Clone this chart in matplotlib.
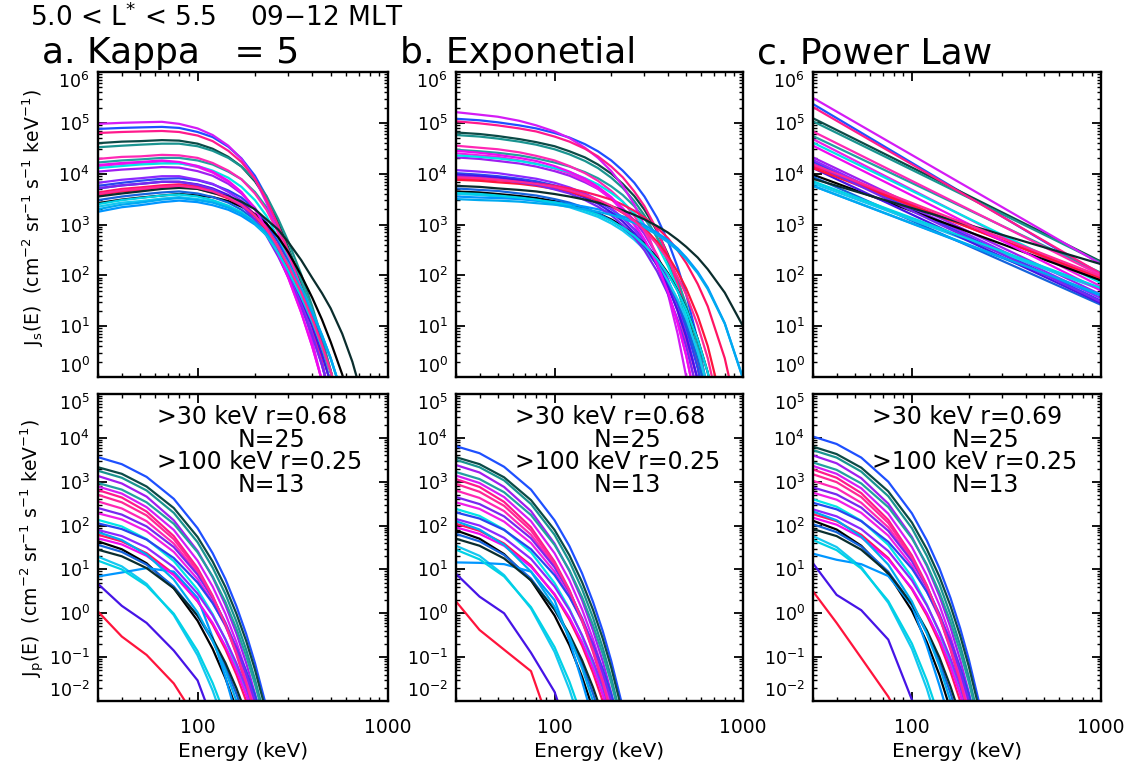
import numpy as np
import matplotlib
matplotlib.use('Agg')
import matplotlib.pyplot as plt
from matplotlib.ticker import LogLocator, NullFormatter, FixedLocator, FixedFormatter

energy_top = [30, 40, 50, 65, 80, 100, 120, 145, 170, 200, 230, 265, 300, 350,
              400, 450, 500, 575, 650, 800, 1000]
energy_pl = [30, 1000]
energy_bot = [30, 40, 54, 75, 100, 120, 140, 160, 180, 200, 230, 260, 300]

colors = ['#1e50ff', '#0c4a46', '#1a9490', '#a01ef0', '#22a0a0',
          '#d41cf5', '#ff1a8c', '#ff28b4', '#f01ee6', '#00e6e6',
          '#2846f0', '#8c28ff', '#ff1464', '#000000', '#1464dc',
          '#14c8f0', '#0096ff', '#4614e6', '#ff143c', '#7828f0',
          '#f00af0', '#0a2d2d', '#00d2e6', '#00aaf0', '#ff2896']

# log10 J_s, kappa = 5 fits
kappa_top = [
    [4.88, 4.90, 4.91, 4.92, 4.90, 4.82, 4.72, 4.53, 4.30, 3.96, 3.55, 3.03, 2.50, 1.76, 1.03, 0.30, -0.49, -1.68, -2.86, -5.5, -9.0],
    [4.60, 4.63, 4.64, 4.66, 4.65, 4.59, 4.49, 4.33, 4.14, 3.85, 3.51, 3.03, 2.54, 1.87, 1.20, 0.54, -0.14, -1.21, -2.3, -4.7, -7.8],
    [4.52, 4.55, 4.57, 4.59, 4.59, 4.54, 4.45, 4.31, 4.14, 3.88, 3.56, 3.11, 2.66, 2.02, 1.39, 0.76, 0.13, -0.87, -1.9, -4.1, -7.1],
    [4.04, 4.08, 4.10, 4.13, 4.12, 4.05, 3.96, 3.80, 3.61, 3.33, 2.98, 2.54, 2.10, 1.48, 0.87, 0.25, -0.41, -1.41, -2.4, -4.6, -7.6],
    [4.22, 4.26, 4.28, 4.31, 4.31, 4.26, 4.18, 4.04, 3.89, 3.64, 3.34, 2.92, 2.50, 1.90, 1.30, 0.71, 0.12, -0.82, -1.8, -3.9, -6.7],
    [4.98, 5.00, 5.01, 5.02, 4.98, 4.89, 4.76, 4.55, 4.29, 3.90, 3.43, 2.85, 2.29, 1.50, 0.71, -0.09, -0.96, -2.26, -3.6, -6.4, -10.0],
    [4.80, 4.82, 4.83, 4.84, 4.82, 4.75, 4.64, 4.45, 4.23, 3.90, 3.49, 2.98, 2.46, 1.73, 1.01, 0.29, -0.49, -1.65, -2.8, -5.4, -8.9],
    [4.29, 4.33, 4.34, 4.37, 4.36, 4.31, 4.21, 4.06, 3.89, 3.61, 3.29, 2.84, 2.38, 1.75, 1.13, 0.50, -0.13, -1.14, -2.2, -4.4, -7.3],
    [4.15, 4.19, 4.21, 4.24, 4.21, 4.13, 4.02, 3.84, 3.63, 3.30, 2.89, 2.41, 1.94, 1.27, 0.60, -0.07, -0.81, -1.91, -3.1, -5.4, -8.7],
    [4.11, 4.15, 4.18, 4.20, 4.20, 4.15, 4.06, 3.92, 3.74, 3.48, 3.17, 2.73, 2.29, 1.69, 1.09, 0.49, -0.13, -1.10, -2.1, -4.2, -7.0],
    [3.76, 3.82, 3.86, 3.90, 3.91, 3.87, 3.79, 3.67, 3.53, 3.30, 3.03, 2.65, 2.27, 1.72, 1.18, 0.65, 0.11, -0.74, -1.6, -3.5, -6.0],
    [3.82, 3.88, 3.91, 3.95, 3.95, 3.88, 3.80, 3.64, 3.47, 3.19, 2.86, 2.44, 2.01, 1.42, 0.83, 0.24, -0.40, -1.35, -2.3, -4.4, -7.3],
    [3.63, 3.70, 3.73, 3.77, 3.79, 3.75, 3.67, 3.56, 3.42, 3.20, 2.94, 2.57, 2.20, 1.67, 1.15, 0.63, 0.11, -0.72, -1.6, -3.4, -5.9],
    [3.42, 3.49, 3.53, 3.57, 3.60, 3.57, 3.54, 3.46, 3.35, 3.20, 3.02, 2.75, 2.45, 2.00, 1.56, 1.13, 0.69, 0.05, -0.65, -2.1, -4.2],
    [3.48, 3.55, 3.59, 3.63, 3.65, 3.61, 3.54, 3.43, 3.29, 3.09, 2.83, 2.48, 2.12, 1.61, 1.11, 0.60, 0.10, -0.70, -1.5, -3.3, -5.6],
    [3.35, 3.43, 3.46, 3.51, 3.54, 3.50, 3.45, 3.35, 3.23, 3.06, 2.85, 2.54, 2.22, 1.75, 1.29, 0.83, 0.37, -0.35, -1.1, -2.7, -4.8],
    [3.25, 3.34, 3.38, 3.44, 3.47, 3.44, 3.38, 3.29, 3.17, 3.00, 2.79, 2.49, 2.18, 1.71, 1.26, 0.81, 0.36, -0.34, -1.0, -2.6, -4.7],
    [3.71, 3.77, 3.80, 3.84, 3.84, 3.79, 3.71, 3.58, 3.42, 3.18, 2.90, 2.50, 2.10, 1.54, 1.00, 0.44, -0.12, -1.00, -1.9, -3.9, -6.4],
    [3.58, 3.65, 3.68, 3.72, 3.74, 3.70, 3.63, 3.51, 3.38, 3.16, 2.90, 2.54, 2.17, 1.65, 1.13, 0.62, 0.11, -0.71, -1.6, -3.4, -5.8],
    [3.71, 3.77, 3.80, 3.84, 3.84, 3.78, 3.69, 3.54, 3.37, 3.10, 2.78, 2.37, 1.96, 1.38, 0.81, 0.23, -0.39, -1.31, -2.2, -4.3, -7.1],
    [4.17, 4.21, 4.23, 4.26, 4.23, 4.15, 4.04, 3.86, 3.64, 3.31, 2.91, 2.42, 1.95, 1.27, 0.60, -0.07, -0.81, -1.92, -3.1, -5.5, -8.8],
    [3.55, 3.61, 3.65, 3.70, 3.72, 3.70, 3.62, 3.55, 3.45, 3.30, 3.10, 2.90, 2.65, 2.30, 1.95, 1.65, 1.35, 0.85, 0.30, -0.89, -2.6],
    [3.40, 3.48, 3.52, 3.57, 3.59, 3.55, 3.48, 3.37, 3.24, 3.03, 2.79, 2.44, 2.08, 1.58, 1.09, 0.59, 0.10, -0.68, -1.5, -3.2, -5.5],
    [3.30, 3.39, 3.43, 3.49, 3.52, 3.48, 3.43, 3.33, 3.21, 3.04, 2.83, 2.53, 2.21, 1.74, 1.28, 0.82, 0.37, -0.34, -1.05, -2.6, -4.8],
    [3.60, 3.67, 3.70, 3.74, 3.76, 3.72, 3.65, 3.53, 3.39, 3.18, 2.92, 2.55, 2.18, 1.66, 1.14, 0.62, 0.11, -0.72, -1.6, -3.4, -5.8],
]

# log10 J_s, exponential fits
expo_top = [
    [5.08, 5.05, 5.01, 4.95, 4.89, 4.80, 4.71, 4.58, 4.44, 4.26, 4.06, 3.82, 3.55, 3.13, 2.67, 2.16, 1.62, 0.72, -0.27, -2.55, -6.17],
    [4.81, 4.78, 4.74, 4.68, 4.62, 4.54, 4.44, 4.32, 4.18, 4.00, 3.80, 3.56, 3.29, 2.87, 2.41, 1.90, 1.36, 0.45, -0.54, -2.83, -6.47],
    [4.76, 4.73, 4.69, 4.63, 4.57, 4.48, 4.38, 4.25, 4.11, 3.92, 3.72, 3.46, 3.18, 2.74, 2.26, 1.73, 1.15, 0.20, -0.85, -3.26, -7.11],
    [4.32, 4.29, 4.25, 4.20, 4.14, 4.05, 3.96, 3.83, 3.70, 3.52, 3.32, 3.08, 2.81, 2.39, 1.92, 1.41, 0.85, -0.06, -1.08, -3.41, -7.15],
    [4.47, 4.44, 4.41, 4.36, 4.30, 4.22, 4.14, 4.03, 3.91, 3.75, 3.58, 3.36, 3.12, 2.75, 2.35, 1.90, 1.42, 0.63, -0.24, -2.24, -5.43],
    [5.21, 5.16, 5.12, 5.04, 4.95, 4.83, 4.70, 4.51, 4.31, 4.05, 3.76, 3.39, 2.98, 2.34, 1.63, 0.85, 0.00, -1.41, -2.98, -6.59, -12.4],
    [5.03, 4.99, 4.95, 4.89, 4.83, 4.73, 4.63, 4.49, 4.34, 4.14, 3.93, 3.65, 3.36, 2.89, 2.38, 1.82, 1.22, 0.21, -0.90, -3.44, -7.51],
    [4.55, 4.51, 4.48, 4.42, 4.35, 4.26, 4.15, 4.01, 3.86, 3.66, 3.45, 3.17, 2.87, 2.40, 1.87, 1.30, 0.68, -0.36, -1.50, -4.13, -8.34],
    [4.40, 4.36, 4.33, 4.26, 4.20, 4.10, 4.00, 3.86, 3.70, 3.50, 3.27, 2.99, 2.68, 2.19, 1.65, 1.06, 0.41, -0.66, -1.84, -4.57, -8.95],
    [4.36, 4.33, 4.30, 4.25, 4.19, 4.11, 4.03, 3.91, 3.79, 3.62, 3.45, 3.22, 2.98, 2.60, 2.18, 1.73, 1.23, 0.41, -0.49, -2.57, -5.87],
    [4.01, 3.98, 3.95, 3.90, 3.85, 3.77, 3.69, 3.58, 3.46, 3.30, 3.13, 2.91, 2.68, 2.31, 1.90, 1.45, 0.97, 0.17, -0.72, -2.74, -5.99],
    [4.07, 4.04, 4.01, 3.95, 3.90, 3.82, 3.73, 3.61, 3.48, 3.32, 3.13, 2.90, 2.65, 2.25, 1.81, 1.33, 0.80, -0.06, -1.02, -3.22, -6.73],
    [3.91, 3.89, 3.87, 3.84, 3.81, 3.76, 3.71, 3.64, 3.57, 3.49, 3.39, 3.27, 3.14, 2.94, 2.73, 2.49, 2.24, 1.83, 1.39, 0.37, -1.22],
    [3.65, 3.63, 3.60, 3.56, 3.52, 3.46, 3.40, 3.31, 3.22, 3.10, 2.97, 2.80, 2.62, 2.34, 2.04, 1.70, 1.34, 0.75, 0.09, -1.41, -3.79],
    [3.71, 3.68, 3.66, 3.61, 3.57, 3.50, 3.43, 3.33, 3.22, 3.08, 2.93, 2.74, 2.54, 2.21, 1.86, 1.47, 1.05, 0.35, -0.42, -2.19, -4.99],
    [3.60, 3.58, 3.55, 3.51, 3.47, 3.40, 3.34, 3.24, 3.15, 3.02, 2.88, 2.70, 2.51, 2.22, 1.89, 1.53, 1.15, 0.51, -0.19, -1.80, -4.37],
    [3.55, 3.53, 3.52, 3.50, 3.47, 3.44, 3.40, 3.35, 3.30, 3.23, 3.16, 3.08, 2.99, 2.84, 2.69, 2.53, 2.35, 2.07, 1.76, 1.06, -0.03],
    [3.98, 3.95, 3.92, 3.87, 3.81, 3.73, 3.65, 3.53, 3.41, 3.24, 3.06, 2.83, 2.59, 2.20, 1.77, 1.30, 0.79, -0.06, -1.00, -3.15, -6.58],
    [3.88, 3.86, 3.83, 3.80, 3.76, 3.70, 3.64, 3.56, 3.47, 3.36, 3.23, 3.08, 2.92, 2.66, 2.38, 2.07, 1.74, 1.20, 0.61, -0.75, -2.90],
    [3.95, 3.92, 3.89, 3.83, 3.78, 3.69, 3.61, 3.48, 3.35, 3.18, 2.99, 2.75, 2.49, 2.08, 1.63, 1.13, 0.59, -0.31, -1.30, -3.59, -7.24],
    [4.45, 4.41, 4.37, 4.31, 4.25, 4.15, 4.04, 3.90, 3.74, 3.54, 3.31, 3.02, 2.71, 2.22, 1.67, 1.07, 0.42, -0.66, -1.86, -4.62, -9.05],
    [3.76, 3.74, 3.71, 3.68, 3.65, 3.60, 3.55, 3.49, 3.43, 3.36, 3.28, 3.19, 3.10, 2.97, 2.84, 2.70, 2.56, 2.35, 2.12, 1.66, 1.00],
    [3.62, 3.60, 3.57, 3.53, 3.49, 3.43, 3.37, 3.28, 3.19, 3.07, 2.94, 2.78, 2.60, 2.32, 2.02, 1.69, 1.33, 0.74, 0.09, -1.39, -3.76],
    [3.50, 3.48, 3.47, 3.45, 3.42, 3.39, 3.35, 3.30, 3.25, 3.19, 3.12, 3.03, 2.94, 2.80, 2.65, 2.49, 2.32, 2.04, 1.73, 1.05, -0.03],
    [3.93, 3.91, 3.88, 3.84, 3.80, 3.74, 3.67, 3.58, 3.49, 3.37, 3.24, 3.07, 2.89, 2.61, 2.31, 1.97, 1.62, 1.02, 0.37, -1.11, -3.47],
]

# log10 J_s, power law fits (30 keV, 1000 keV)
power_top = [
    [5.37, 2.00], [5.09, 2.27], [5.03, 2.25], [4.32, 1.62], [4.74, 2.05],
    [5.49, 2.22], [5.31, 2.03], [4.83, 2.00], [4.68, 1.78], [4.61, 1.85],
    [4.24, 1.50], [4.27, 1.55], [4.15, 1.92], [3.98, 1.90], [3.94, 1.42],
    [3.81, 1.72], [3.76, 1.60], [4.11, 1.45], [4.11, 1.95], [4.20, 1.48],
    [4.55, 1.70], [3.90, 2.22], [3.85, 1.75], [3.76, 1.62], [4.18, 1.98],
]

# log10 J_p for each fit
kappa_bot = [
    [3.56, 3.40, 3.11, 2.61, 1.94, 1.37, 0.78, 0.16, -0.47, -1.13, -2.14, -3.17, -4.60],
    [3.33, 3.18, 2.89, 2.40, 1.74, 1.18, 0.60, -0.01, -0.63, -1.28, -2.27, -3.29, -4.69],
    [3.25, 3.09, 2.80, 2.29, 1.62, 1.04, 0.44, -0.19, -0.83, -1.50, -2.51, -3.56, -5.01],
    [3.13, 2.96, 2.66, 2.12, 1.42, 0.82, 0.19, -0.46, -1.13, -1.83, -2.89, -3.99, -5.50],
    [2.97, 2.82, 2.53, 2.04, 1.39, 0.84, 0.26, -0.35, -0.97, -1.61, -2.59, -3.61, -5.00],
    [2.89, 2.73, 2.42, 1.90, 1.20, 0.61, -0.01, -0.66, -1.32, -2.00, -3.05, -4.14, -5.62],
    [2.81, 2.64, 2.32, 1.76, 1.03, 0.40, -0.26, -0.94, -1.64, -2.37, -3.48, -4.62, -6.20],
    [2.55, 2.39, 2.10, 1.59, 0.92, 0.35, -0.24, -0.87, -1.51, -2.16, -3.18, -4.23, -5.66],
    [2.28, 2.14, 1.87, 1.40, 0.78, 0.26, -0.29, -0.87, -1.46, -2.06, -2.99, -3.96, -5.28],
    [2.13, 1.98, 1.69, 1.19, 0.54, -0.02, -0.60, -1.22, -1.84, -2.48, -3.48, -4.50, -5.90],
    [2.05, 1.92, 1.68, 1.26, 0.70, 0.23, -0.27, -0.79, -1.32, -1.86, -2.70, -3.57, -4.76],
    [1.90, 1.76, 1.50, 1.05, 0.45, -0.05, -0.59, -1.14, -1.71, -2.30, -3.20, -4.13, -5.40],
    [1.79, 1.64, 1.37, 0.90, 0.27, -0.26, -0.82, -1.40, -2.00, -2.61, -3.56, -4.54, -5.88],
    [1.64, 1.46, 1.14, 0.57, -0.17, -0.81, -1.48, -2.18, -2.89, -3.63, -4.76, -5.93, -7.53],
    [1.56, 1.40, 1.11, 0.61, -0.06, -0.63, -1.22, -1.84, -2.48, -3.14, -4.15, -5.19, -6.62],
    [1.29, 1.07, 0.67, -0.04, -0.96, -1.76, -2.58, -3.45, -4.33, -5.25, -6.65, -8.1, -10.1],
    [0.84, 0.93, 1.03, 0.95, 0.35, -0.55, -1.45, -2.35, -3.3, -4.2, -5.5, -6.8, -8.5],
    [0.67, 0.17, -0.22, -0.85, -1.53, -2.45, -3.4, -4.2, -5.0, -5.9, -7.0, -8.0, -9.5],
    [0.04, -0.53, -0.95, -1.60, -2.45, -3.2, -3.9, -4.7, -5.5, -6.3, -7.5, -8.5, -10.0],
    [2.40, 2.25, 1.98, 1.51, 0.88, 0.35, -0.21, -0.79, -1.39, -2.00, -2.95, -3.92, -5.26],
    [1.71, 1.57, 1.31, 0.87, 0.28, -0.22, -0.75, -1.30, -1.86, -2.43, -3.33, -4.25, -5.51],
    [1.45, 1.30, 1.03, 0.57, -0.05, -0.58, -1.13, -1.71, -2.30, -2.91, -3.84, -4.81, -6.13],
    [1.20, 1.00, 0.63, -0.01, -0.86, -1.59, -2.34, -3.13, -3.94, -4.78, -6.06, -7.39, -9.21],
    [1.85, 1.67, 1.34, 0.77, 0.02, -0.63, -1.30, -2.00, -2.72, -3.46, -4.61, -5.79, -7.40],
    [2.70, 2.53, 2.23, 1.69, 0.98, 0.38, -0.25, -0.91, -1.58, -2.28, -3.35, -4.45, -5.97],
]

expo_bot = [
    [3.81, 3.65, 3.34, 2.82, 2.12, 1.53, 0.91, 0.26, -0.40, -1.09, -2.14, -3.23, -4.72],
    [3.56, 3.40, 3.10, 2.58, 1.90, 1.32, 0.71, 0.08, -0.57, -1.24, -2.28, -3.35, -4.81],
    [3.50, 3.33, 3.03, 2.49, 1.79, 1.18, 0.55, -0.10, -0.78, -1.47, -2.54, -3.64, -5.15],
    [3.38, 3.21, 2.88, 2.33, 1.59, 0.96, 0.30, -0.39, -1.09, -1.82, -2.94, -4.09, -5.67],
    [3.22, 3.06, 2.76, 2.24, 1.56, 0.98, 0.37, -0.27, -0.92, -1.59, -2.62, -3.69, -5.15],
    [3.14, 2.97, 2.65, 2.10, 1.37, 0.75, 0.09, -0.59, -1.28, -2.00, -3.11, -4.25, -5.81],
    [3.06, 2.88, 2.54, 1.96, 1.18, 0.53, -0.17, -0.88, -1.62, -2.39, -3.55, -4.76, -6.41],
    [2.80, 2.63, 2.33, 1.79, 1.09, 0.48, -0.15, -0.81, -1.48, -2.17, -3.24, -4.35, -5.86],
    [2.53, 2.38, 2.09, 1.60, 0.95, 0.39, -0.19, -0.80, -1.42, -2.06, -3.05, -4.07, -5.47],
    [2.38, 2.22, 1.91, 1.39, 0.69, 0.10, -0.52, -1.17, -1.83, -2.51, -3.57, -4.65, -6.14],
    [2.30, 2.16, 1.90, 1.46, 0.87, 0.37, -0.16, -0.71, -1.27, -1.85, -2.75, -3.67, -4.93],
    [2.15, 2.00, 1.72, 1.24, 0.61, 0.07, -0.50, -1.08, -1.69, -2.32, -3.27, -4.26, -5.62],
    [2.04, 1.88, 1.59, 1.09, 0.42, -0.15, -0.74, -1.36, -2.00, -2.65, -3.66, -4.71, -6.13],
    [1.89, 1.70, 1.35, 0.75, -0.05, -0.73, -1.45, -2.19, -2.95, -3.74, -4.95, -6.20, -7.91],
    [1.81, 1.64, 1.33, 0.79, 0.08, -0.53, -1.17, -1.83, -2.52, -3.22, -4.30, -5.41, -6.94],
    [1.54, 1.31, 0.87, 0.11, -0.88, -1.74, -2.63, -3.56, -4.51, -5.49, -7.0, -8.56, -10.7],
    [1.16, 1.15, 1.12, 0.95, 0.30, -0.62, -1.55, -2.42, -3.3, -4.3, -5.5, -6.9, -8.5],
    [0.90, 0.38, 0.00, -0.90, -1.79, -2.8, -3.8, -4.7, -5.6, -6.6, -7.8, -9.0, -10.5],
    [0.27, -0.38, -0.83, -1.32, -2.86, -3.7, -4.5, -5.5, -6.5, -7.3, -8.5, -9.6, -11.0],
    [2.65, 2.49, 2.21, 1.71, 1.05, 0.48, -0.11, -0.72, -1.35, -2.00, -3.00, -4.03, -5.44],
    [1.96, 1.81, 1.54, 1.06, 0.44, -0.10, -0.66, -1.25, -1.85, -2.46, -3.42, -4.40, -5.74],
    [1.70, 1.54, 1.25, 0.75, 0.09, -0.48, -1.07, -1.69, -2.32, -2.97, -3.98, -5.01, -6.43],
    [1.45, 1.23, 0.84, 0.14, -0.77, -1.56, -2.37, -3.22, -4.10, -5.00, -6.38, -7.81, -9.77],
    [2.10, 1.91, 1.56, 0.95, 0.15, -0.54, -1.25, -2.00, -2.77, -3.56, -4.77, -6.03, -7.75],
    [2.95, 2.77, 2.45, 1.89, 1.14, 0.51, -0.16, -0.85, -1.56, -2.30, -3.42, -4.58, -6.18],
]

power_bot = [
    [4.03, 3.86, 3.55, 3.00, 2.28, 1.66, 1.02, 0.35, -0.34, -1.05, -2.15, -3.27, -4.82],
    [3.80, 3.63, 3.32, 2.78, 2.07, 1.46, 0.83, 0.17, -0.51, -1.21, -2.29, -3.40, -4.93],
    [3.72, 3.55, 3.23, 2.67, 1.94, 1.31, 0.66, -0.03, -0.73, -1.45, -2.56, -3.71, -5.28],
    [3.60, 3.42, 3.08, 2.50, 1.74, 1.08, 0.39, -0.32, -1.06, -1.81, -2.97, -4.17, -5.82],
    [3.44, 3.27, 2.96, 2.42, 1.71, 1.11, 0.47, -0.19, -0.87, -1.57, -2.65, -3.76, -5.29],
    [3.36, 3.18, 2.85, 2.27, 1.51, 0.86, 0.18, -0.53, -1.25, -2.00, -3.15, -4.34, -5.97],
    [3.28, 3.09, 2.74, 2.13, 1.32, 0.64, -0.09, -0.83, -1.61, -2.40, -3.62, -4.88, -6.61],
    [3.02, 2.85, 2.52, 1.96, 1.23, 0.60, -0.06, -0.75, -1.46, -2.18, -3.30, -4.46, -6.04],
    [2.75, 2.59, 2.29, 1.77, 1.09, 0.50, -0.11, -0.74, -1.40, -2.07, -3.10, -4.17, -5.64],
    [2.60, 2.43, 2.11, 1.56, 0.83, 0.20, -0.45, -1.13, -1.82, -2.54, -3.65, -4.78, -6.35],
    [2.52, 2.37, 2.10, 1.63, 1.02, 0.49, -0.07, -0.64, -1.24, -1.85, -2.79, -3.75, -5.08],
    [2.37, 2.21, 1.92, 1.42, 0.75, 0.18, -0.42, -1.03, -1.67, -2.33, -3.34, -4.38, -5.81],
    [2.26, 2.10, 1.79, 1.26, 0.55, -0.05, -0.67, -1.33, -2.00, -2.69, -3.76, -4.85, -6.36],
    [2.11, 1.91, 1.54, 0.90, 0.06, -0.66, -1.41, -2.20, -3.01, -3.84, -5.11, -6.44, -8.24],
    [2.03, 1.85, 1.52, 0.95, 0.20, -0.45, -1.12, -1.82, -2.55, -3.29, -4.43, -5.61, -7.23],
    [1.76, 1.51, 1.05, 0.24, -0.81, -1.72, -2.67, -3.65, -4.67, -5.71, -7.32, -8.97, -11.2],
    [1.36, 1.22, 1.12, 0.85, 0.18, -0.75, -1.65, -2.5, -3.4, -4.4, -5.6, -7.0, -8.6],
    [1.14, 0.42, 0.07, -0.60, -1.97, -3.0, -4.0, -5.0, -6.0, -6.8, -8.0, -9.2, -10.5],
    [0.50, -0.22, -1.02, -1.90, -2.9, -3.7, -4.5, -5.2, -6.0, -6.8, -8.0, -9.2, -10.5],
    [2.87, 2.71, 2.41, 1.88, 1.19, 0.60, -0.02, -0.66, -1.32, -2.00, -3.05, -4.13, -5.61],
    [2.18, 2.02, 1.73, 1.23, 0.57, 0.00, -0.59, -1.21, -1.84, -2.49, -3.50, -4.53, -5.95],
    [1.92, 1.76, 1.45, 0.92, 0.21, -0.39, -1.01, -1.67, -2.34, -3.03, -4.09, -5.19, -6.70],
    [1.67, 1.44, 1.02, 0.28, -0.69, -1.53, -2.39, -3.30, -4.23, -5.19, -6.66, -8.18, -10.3],
    [2.32, 2.12, 1.75, 1.11, 0.27, -0.46, -1.21, -2.00, -2.81, -3.64, -4.92, -6.25, -8.06],
    [3.17, 2.99, 2.65, 2.06, 1.28, 0.62, -0.08, -0.80, -1.54, -2.31, -3.49, -4.70, -6.37],
]

panel_titles = ['a. Kappa   = 5', 'b. Exponetial', 'c. Power Law']
r30 = ['0.68', '0.68', '0.69']
r100 = ['0.25', '0.25', '0.25']
n30 = 25
n100 = 13

W, H = 1134, 767
col_left = [98, 456, 813]
col_right = [388, 743, 1101]
row_top = [72, 394]
row_bottom = [377, 701]


def style_axes(ax, decades, bottom_row):
    ax.set_xscale('log')
    ax.set_yscale('log')
    for s in ax.spines.values():
        s.set_linewidth(1.7)
    ax.set_yticks([10.0 ** d for d in decades], [r'$10^{%d}$' % d for d in decades])
    ax.xaxis.set_major_locator(FixedLocator([100, 1000]))
    ax.xaxis.set_minor_locator(LogLocator(base=10, subs=np.arange(2, 10), numticks=20))
    ax.xaxis.set_minor_formatter(NullFormatter())
    ax.yaxis.set_minor_locator(LogLocator(base=10, subs=np.arange(2, 10), numticks=20))
    ax.yaxis.set_minor_formatter(NullFormatter())
    ax.tick_params(which='both', direction='in', top=True, right=True)
    ax.tick_params(which='major', length=6.5, width=1.3)
    ax.tick_params(which='minor', length=3, width=1.0)
    ax.tick_params(axis='y', labelsize=12.5, pad=6)
    ticks = ax.yaxis.get_major_ticks()
    ticks[0].label1.set_va('bottom')
    ticks[-1].label1.set_va('top')
    if bottom_row:
        ax.xaxis.set_major_formatter(FixedFormatter(['100', '1000']))
        ax.tick_params(axis='x', labelsize=13.5, pad=12)
        ax.set_xlabel('Energy (keV)', fontsize=14.5, labelpad=4)
    else:
        ax.xaxis.set_major_formatter(NullFormatter())
    ax.set_xlim(30, 1000)
    ax.set_ylim(10.0 ** decades[0], 10.0 ** decades[-1])


fig = plt.figure(figsize=(W / 100, H / 100), dpi=100)

top_data = [(energy_top, kappa_top), (energy_top, expo_top), (energy_pl, power_top)]
bot_data = [kappa_bot, expo_bot, power_bot]

for j in range(3):
    for i in range(2):
        left = col_left[j] / W
        width = (col_right[j] - col_left[j]) / W
        bottom = 1 - row_bottom[i] / H
        height = (row_bottom[i] - row_top[i]) / H
        ax = fig.add_axes([left, bottom, width, height])
        if i == 0:
            energy, curves = top_data[j]
            for c, row in zip(colors, curves):
                ax.plot(energy, 10 ** np.array(row), color=c, lw=1.6)
            style_axes(ax, list(range(0, 7)), False)
        else:
            for c, row in zip(colors, bot_data[j]):
                ax.plot(energy_bot, 10 ** np.array(row), color=c, lw=1.6)
            style_axes(ax, list(range(-2, 6)), True)
            fs = 17
            ax.text(0.205, 0.925, '>30 keV r=' + r30[j], transform=ax.transAxes,
                    fontsize=fs, va='center', ha='left')
            ax.text(0.48, 0.85, 'N=%d' % n30, transform=ax.transAxes,
                    fontsize=fs, va='center', ha='left')
            ax.text(0.205, 0.778, '>100 keV r=' + r100[j], transform=ax.transAxes,
                    fontsize=fs, va='center', ha='left')
            ax.text(0.48, 0.704, 'N=%d' % n100, transform=ax.transAxes,
                    fontsize=fs, va='center', ha='left')

title_x = [42, 400, 757]
for j in range(3):
    fig.text(title_x[j] / W, 1 - 63 / H, panel_titles[j], fontsize=26, va='baseline', ha='left')

fig.text(30 / W, 1 - 26 / H, '5.0 < L$^{*}$ < 5.5    09\u221212 MLT',
         fontsize=19, va='baseline', ha='left')

fig.text(33 / W, 1 - 217.5 / H,
         r'J$_\mathrm{s}$(E)  (cm$^{-2}$ sr$^{-1}$ s$^{-1}$ keV$^{-1}$)',
         rotation=90, fontsize=13.5, va='center', ha='center')
fig.text(33 / W, 1 - 548 / H,
         r'J$_\mathrm{p}$(E)  (cm$^{-2}$ sr$^{-1}$ s$^{-1}$ keV$^{-1}$)',
         rotation=90, fontsize=13.5, va='center', ha='center')

fig.savefig('out.png', dpi=100)
